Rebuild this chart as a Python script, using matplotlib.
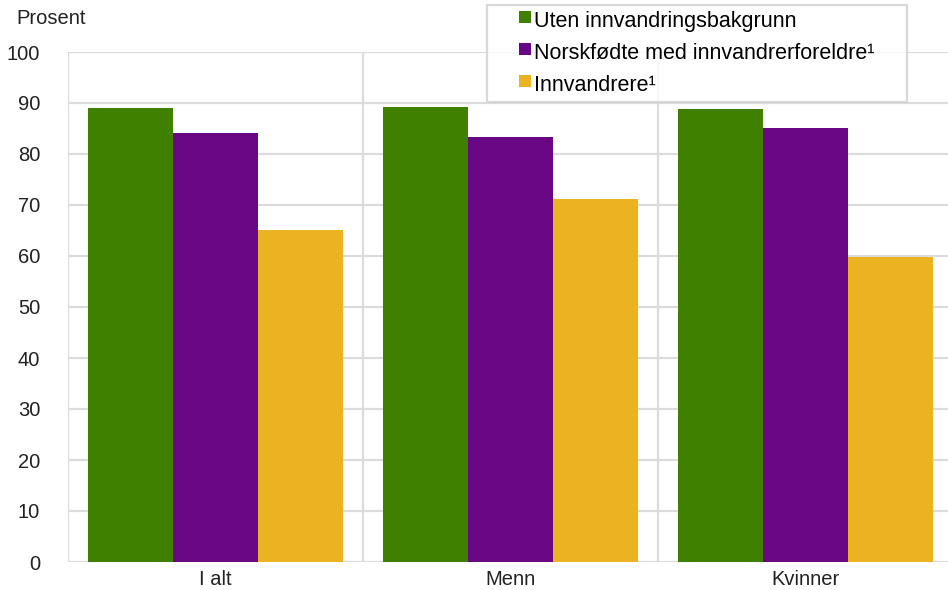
import matplotlib
matplotlib.use("Agg")
import matplotlib.pyplot as plt
import matplotlib.patches as mpatches
from matplotlib.legend_handler import HandlerPatch
import numpy as np

categories = ["I alt", "Menn", "Kvinner"]
series_names = ["Uten innvandringsbakgrunn", "Norskfødte med innvandrerforeldre¹", "Innvandrere¹"]
uten = [89.0, 89.3, 88.9]
norskfodte = [84.2, 83.4, 85.0]
innvandrere = [65.0, 71.2, 59.8]
yticks = [0, 10, 20, 30, 40, 50, 60, 70, 80, 90, 100]

colors = ["#3f8000", "#6a0785", "#ebb321"]
grid_c = "#dcdcdc"

plt.rcParams['font.family'] = ['Liberation Sans', 'DejaVu Sans']
fs = 14.5
lfs = 15.5

fig = plt.figure(figsize=(9.48, 5.9), dpi=100)
W, H = 948, 590
ax = fig.add_axes([68 / W, (H - 562) / H, 885 / W, 510 / H])

x = np.arange(len(categories))
bw = 85 / 295
for i, (vals, c, name) in enumerate(zip([uten, norskfodte, innvandrere], colors, series_names)):
    ax.bar(x + (i - 1) * bw, vals, width=bw, color=c, label=name, zorder=3, linewidth=0)

ax.set_xlim(-0.5, len(categories) - 0.5)
ax.set_ylim(0, 100)
ax.set_yticks(yticks)
ax.set_yticklabels([str(v) for v in yticks], fontsize=fs, color="#222222")
ax.set_xticks(x)
ax.set_xticklabels(categories, fontsize=fs, color="#222222")
ax.tick_params(axis='both', length=0)
ax.tick_params(axis='y', pad=20)
ax.tick_params(axis='x', pad=6)

for v in yticks:
    ax.axhline(v, color=grid_c, lw=1.6, zorder=1)
for b in np.arange(-0.5, len(categories), 1.0):
    ax.axvline(b, color=grid_c, lw=1.6, zorder=1)
for s in ax.spines.values():
    s.set_visible(False)

fig.text(16 / W, (H - 18) / H, "Prosent", fontsize=fs, color="#222222", va="center", ha="left")


def square_patch(legend, orig_handle, xdescent, ydescent, width, height, fontsize):
    side = 12 * 72 / 100
    return mpatches.Rectangle((width - side - xdescent, -ydescent + (height - side) / 2 + 2), side, side)


handles = [mpatches.Patch(facecolor=c, edgecolor="none") for c in colors]
leg_top = (562 - 5) / 510
leg = ax.legend(handles, series_names, loc="upper left",
                bbox_to_anchor=((487 - 68) / 885, leg_top - 0.01, 420 / 885, 0.01),
                mode="expand", fontsize=lfs, frameon=True, fancybox=False, edgecolor="#d0d0d0",
                handlelength=1.75, handleheight=0.7, handletextpad=0.15, borderpad=0.3,
                labelspacing=0.5, borderaxespad=0,
                handler_map={mpatches.Patch: HandlerPatch(patch_func=square_patch)})
leg.get_frame().set_linewidth(1.6)
leg.set_zorder(5)

fig.savefig("out.png", dpi=100)
